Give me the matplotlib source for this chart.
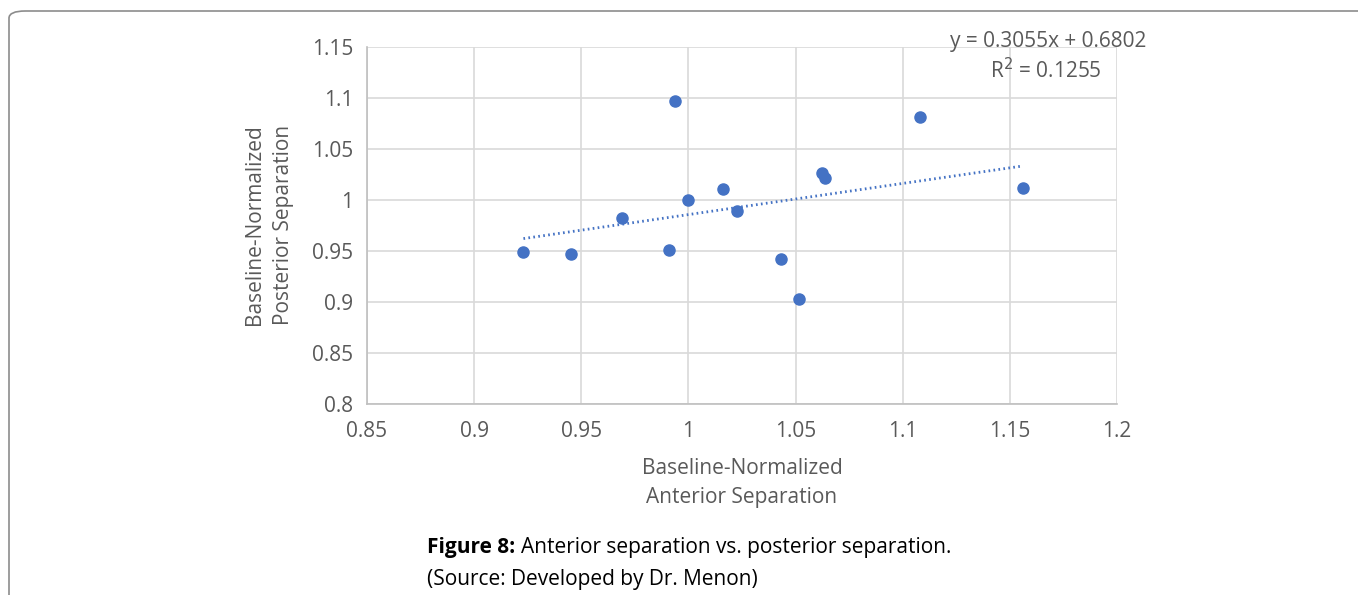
import matplotlib.pyplot as plt
import numpy as np
from matplotlib.patches import FancyBboxPatch

# values
anterior = [0.923, 0.945, 0.969, 0.9936, 0.991, 1.000, 1.0162, 1.0226,
            1.0433, 1.0516, 1.0622, 1.0636, 1.108, 1.156]
posterior = [0.949, 0.947, 0.982, 1.097, 0.951, 1.000, 1.0105, 0.9895,
             0.942, 0.903, 1.0265, 1.0219, 1.081, 1.0118]
slope, intercept, r2 = 0.3055, 0.6802, 0.1255
xticks = [0.85, 0.9, 0.95, 1, 1.05, 1.1, 1.15, 1.2]
yticks = [0.8, 0.85, 0.9, 0.95, 1, 1.05, 1.1, 1.15]

plt.rcParams['font.family'] = ['Open Sans', 'DejaVu Sans']
grey = '#595959'
blue = '#4472C4'
W, H = 1358, 595
fs = 15

fig = plt.figure(figsize=(W / 100, H / 100), dpi=100)
ax = fig.add_axes([367 / W, 1 - 404 / H, (1117 - 367) / W, (404 - 47) / H])

# trendline over the data range
xs = np.array([min(anterior), max(anterior)])
ax.plot(xs, slope * xs + intercept, color=blue, lw=2, linestyle=(0, (0.6, 1.2)),
        dash_capstyle='butt', zorder=2)
ax.plot(anterior, posterior, 'o', color=blue, markersize=8, zorder=3)

ax.set_xlim(0.85, 1.2)
ax.set_ylim(0.8, 1.15)
ax.set_xticks(xticks)
ax.set_yticks(yticks)
ax.set_xticklabels([f'{t:g}' for t in xticks])
ax.set_yticklabels([f'{t:g}' for t in yticks])
ax.grid(True, color='#d9d9d9', lw=1.2)
ax.set_axisbelow(True)
ax.tick_params(length=0, labelsize=fs, colors=grey, pad=12)
ax.tick_params(axis='y', pad=10)
for side in ['top', 'right']:
    ax.spines[side].set_visible(False)
for side in ['left', 'bottom']:
    ax.spines[side].set_color('#bfbfbf')
    ax.spines[side].set_linewidth(1.2)

fig.text(742 / W, 1 - 483 / H, 'Baseline-Normalized\nAnterior Separation',
         ha='center', va='center', fontsize=fs, color=grey, linespacing=1.5)
fig.text(269 / W, 1 - 225 / H, 'Baseline-Normalized\nPosterior Separation',
         ha='center', va='center', fontsize=fs, color=grey, rotation=90,
         linespacing=1.5)

fig.text(1048 / W, 1 - 42 / H, f'y = {slope}x + {intercept}',
         ha='center', va='center', fontsize=fs, color=grey)
fig.text(1046 / W, 1 - 71 / H, f'R$^2$ = {r2}',
         ha='center', va='center', fontsize=fs, color=grey)

# caption
t = fig.text(427 / W, 1 - 547 / H, 'Figure 8: ', ha='left', va='center',
             fontsize=fs, fontweight='bold', color='black')
fig.canvas.draw()
bb = t.get_window_extent()
fig.text(bb.x1 / W, 1 - 547 / H, 'Anterior separation vs. posterior separation.',
         ha='left', va='center', fontsize=fs, color='black')
fig.text(427 / W, 1 - 580 / H, '(Source: Developed by Dr. Menon)',
         ha='left', va='center', fontsize=fs, color='black')

# page frame
frame = FancyBboxPatch((9 / W, -0.2), 1.2, 1.2 - 11 / H,
                       boxstyle='round,pad=0,rounding_size=0.012',
                       transform=fig.transFigure, fill=False,
                       edgecolor='#8c8c8c', lw=1.2)
fig.patches.append(frame)

fig.savefig('out.png', dpi=100)
